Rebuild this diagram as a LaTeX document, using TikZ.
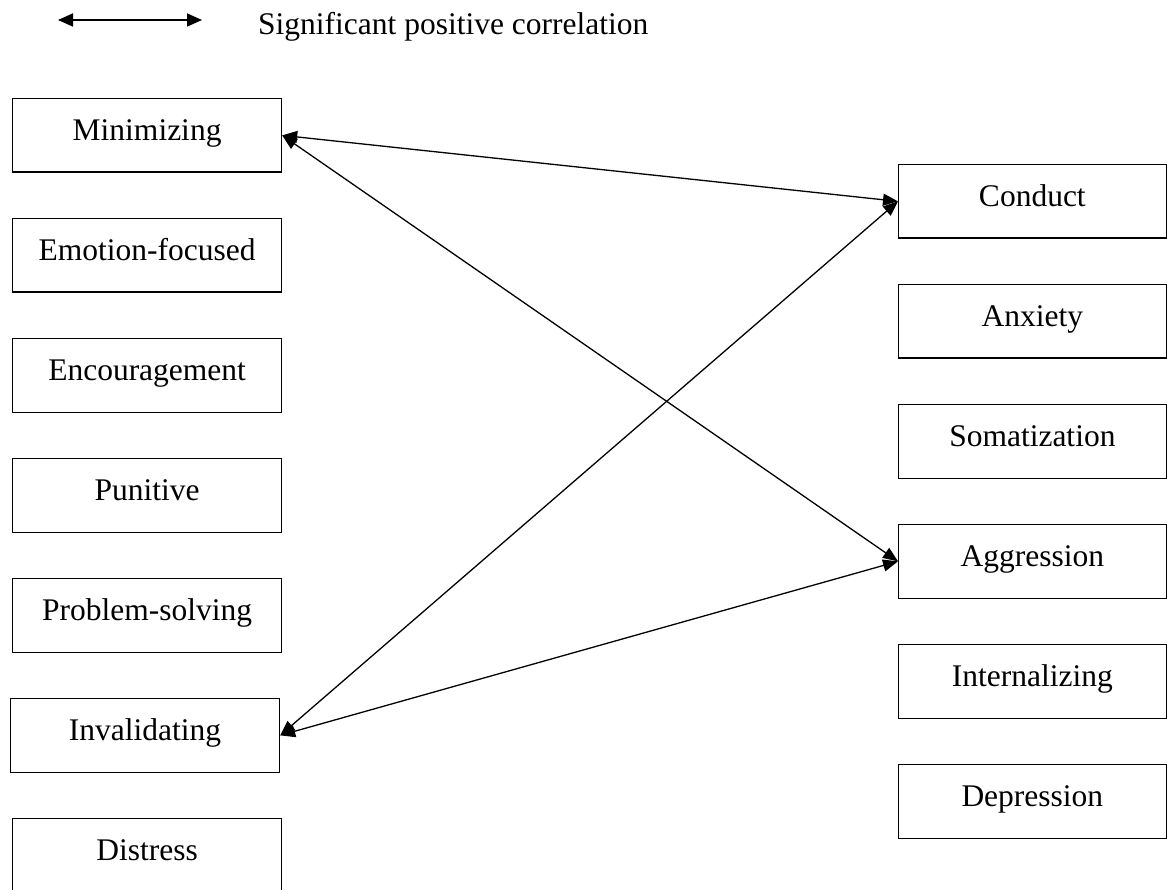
\documentclass[tikz,border=0pt]{standalone}
\usepackage{fontspec}
\setmainfont{Liberation Serif}
\usetikzlibrary{arrows.meta}
\begin{document}
\begin{tikzpicture}[x=1pt,y=-1pt,
  varbox/.style={draw, line width=1.2pt, anchor=north west, inner xsep=0pt, inner ysep=0pt,
    minimum width=269pt, text height=42pt, text depth=31.5pt,
    font=\fontsize{31.5}{36}\selectfont},
  corr/.style={line width=1.3pt, {Triangle[length=15pt,width=12pt]}-{Triangle[length=15pt,width=12pt]}}]
\useasboundingbox (0,0) rectangle (1167,890);
% legend
\coordinate (leg1) at (58,20);
\coordinate (leg2) at (202,20);
\draw[line width=1.8pt, {Triangle[length=15pt,width=13pt]}-{Triangle[length=15pt,width=13pt]}] (leg1) -- (leg2);
\node[anchor=base west, inner sep=0pt, font=\fontsize{31.5}{36}\selectfont] (legtext) at (258,35) {Significant positive correlation};
% left column
\node[varbox] (min) at (12,98) {Minimizing};
\node[varbox] (emo) at (12,218) {Emotion-focused};
\node[varbox] (enc) at (12,338) {Encouragement};
\node[varbox] (pun) at (12,458) {Punitive};
\node[varbox] (pro) at (12,578) {Problem-solving};
\node[varbox] (inv) at (10,698) {Invalidating};
\node[varbox] (dis) at (12,818) {Distress};
% right column
\node[varbox, minimum width=267.5pt] (con) at (898,164) {Conduct};
\node[varbox, minimum width=267.5pt] (anx) at (898,284) {Anxiety};
\node[varbox, minimum width=267.5pt] (som) at (898,404) {Somatization};
\node[varbox, minimum width=267.5pt] (agg) at (898,524) {Aggression};
\node[varbox, minimum width=267.5pt] (int) at (898,644) {Internalizing};
\node[varbox, minimum width=267.5pt] (dep) at (898,764) {Depression};
% correlations
\draw[corr] (min.east) -- (con.west);
\draw[corr] (min.east) -- (agg.west);
\draw[corr] (inv.east) -- (con.west);
\draw[corr] (inv.east) -- (agg.west);
\end{tikzpicture}
\end{document}
